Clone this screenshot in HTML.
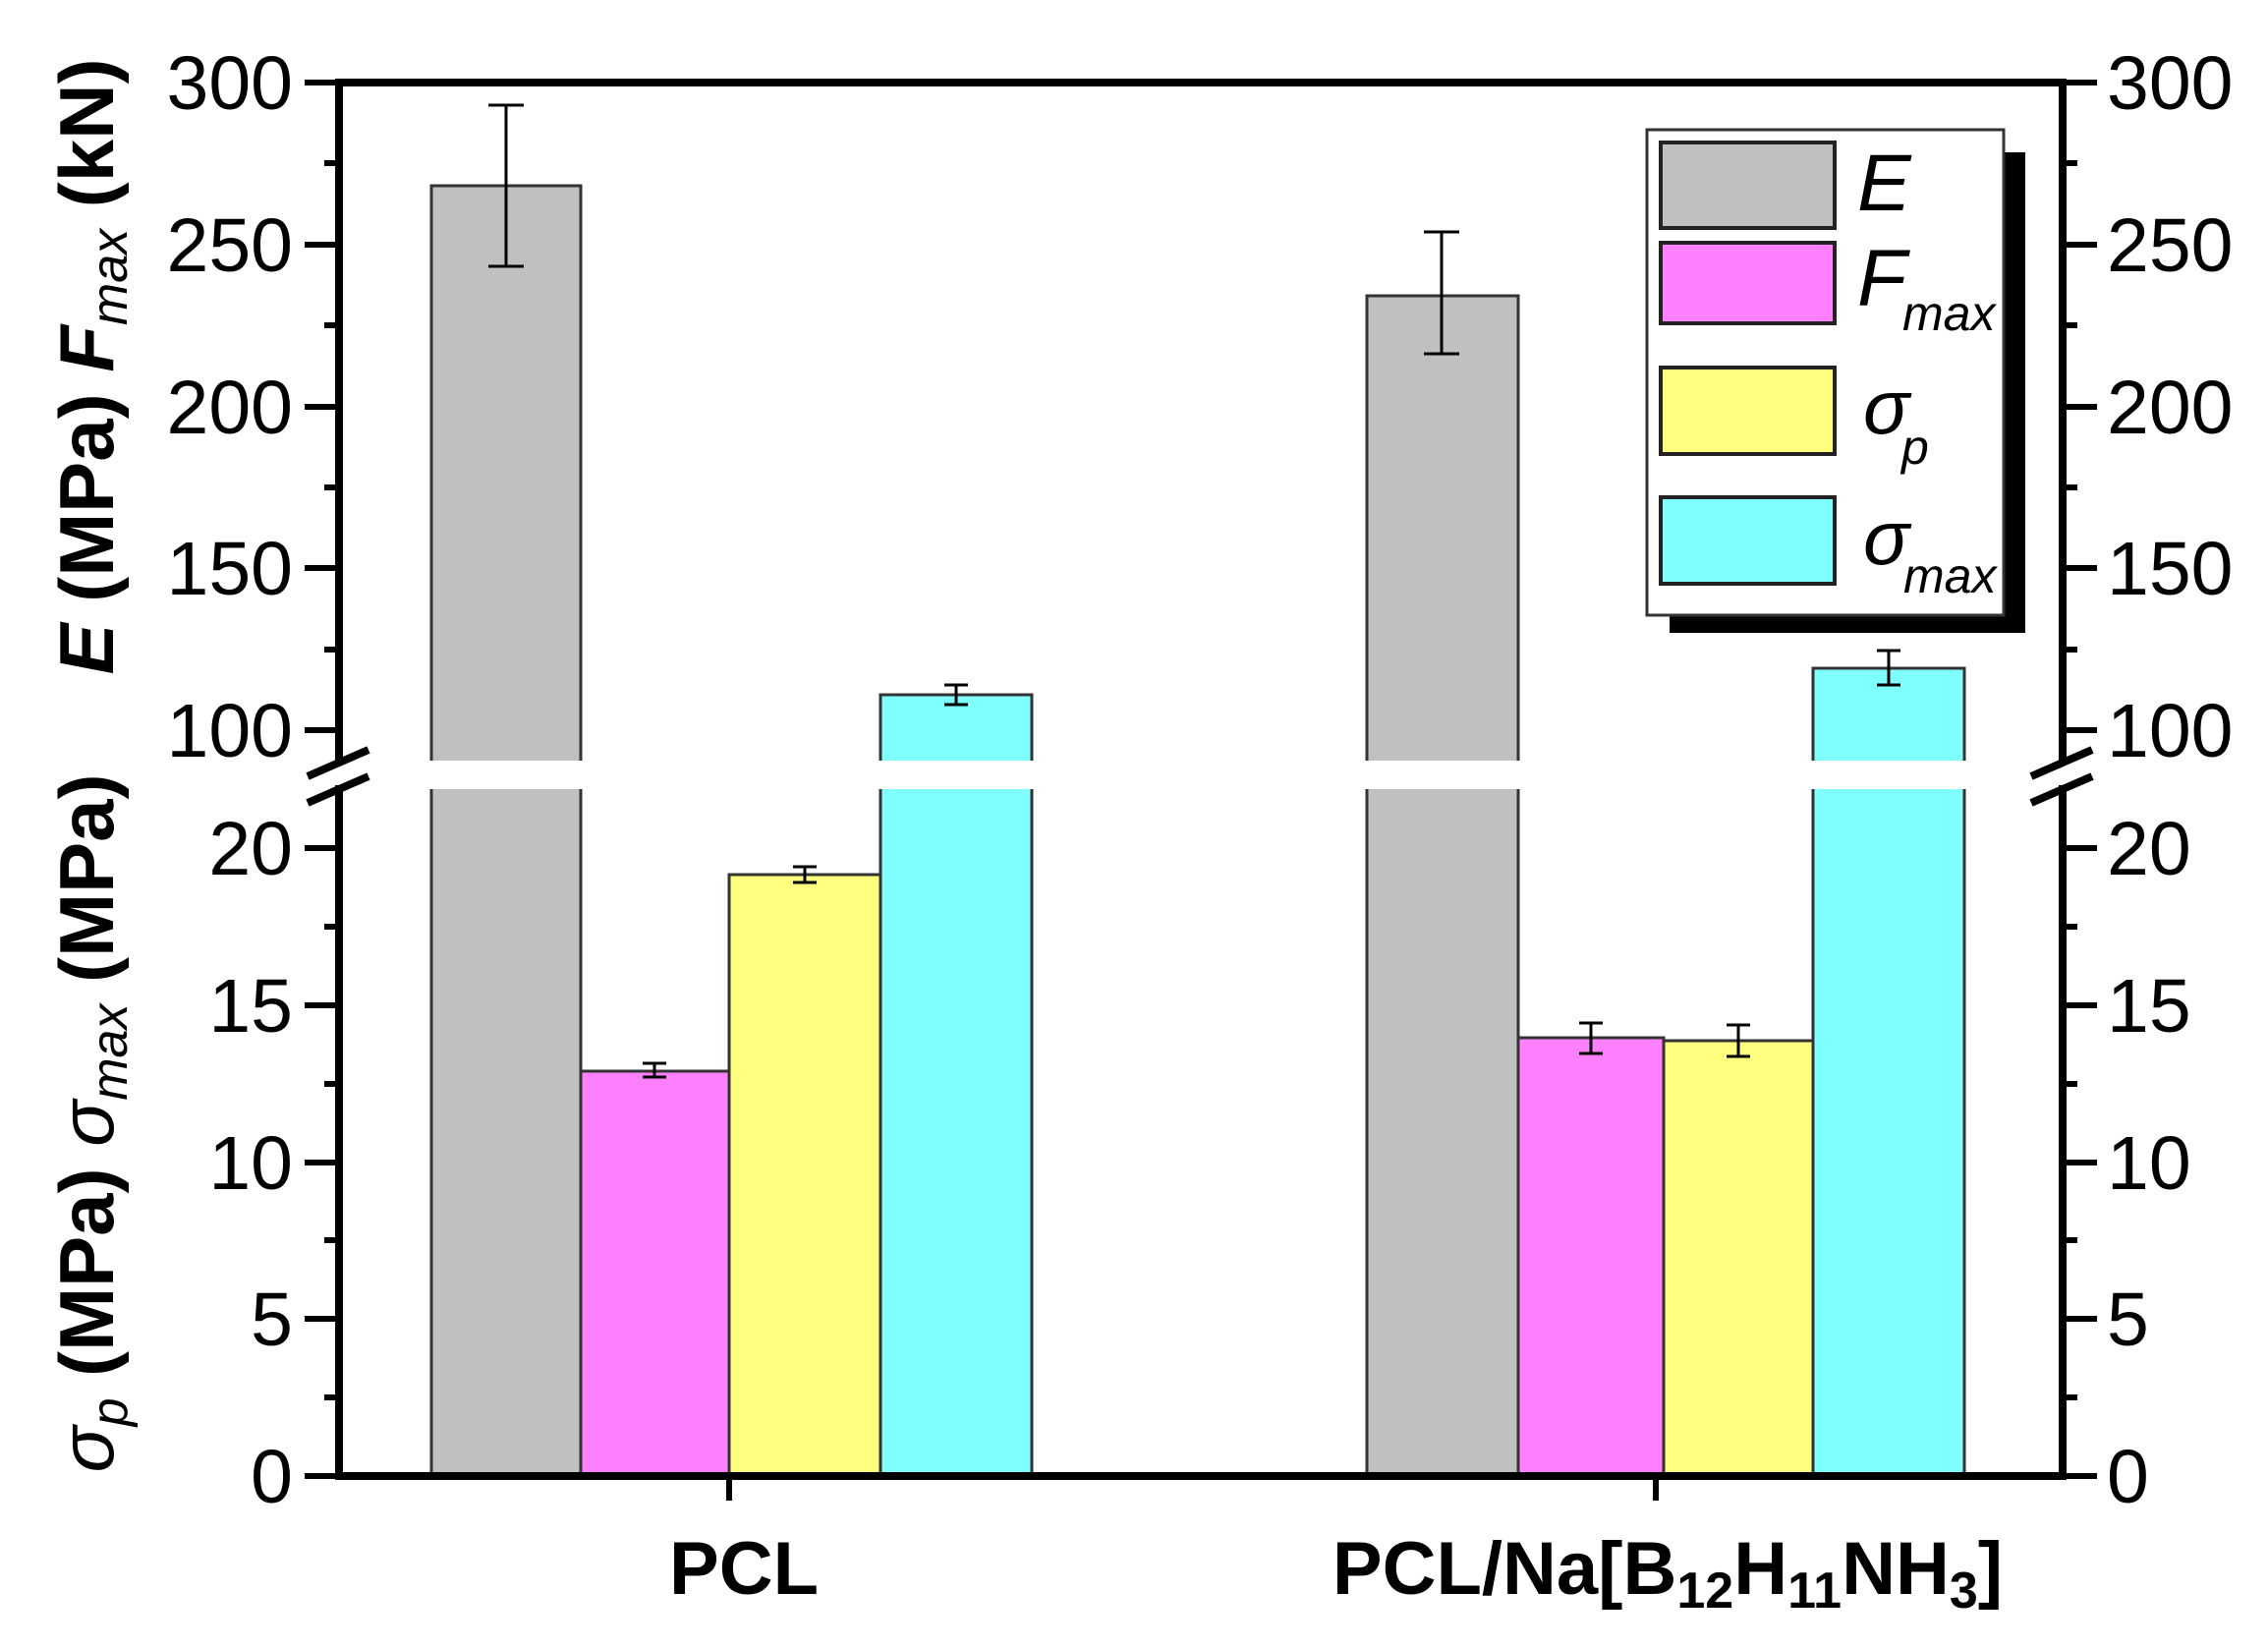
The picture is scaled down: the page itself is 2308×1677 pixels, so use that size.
<!DOCTYPE html>
<html><head><meta charset="utf-8"><style>html,body{margin:0;padding:0;background:#fff}svg{display:block}</style></head>
<body>
<svg width="2308" height="1677" viewBox="0 0 2308 1677" xmlns="http://www.w3.org/2000/svg" font-family="Liberation Sans, Arial, sans-serif">
<rect width="2308" height="1677" fill="#fff"/>
<g stroke="#333" stroke-width="3">
<rect x="439" y="189" width="152" height="1313" fill="#c0c0c0"/>
<rect x="591" y="1090" width="151" height="412" fill="#ff80ff"/>
<rect x="742" y="890" width="154" height="612" fill="#ffff80"/>
<rect x="896" y="707" width="154" height="795" fill="#80ffff"/>
<rect x="1391" y="301" width="154" height="1201" fill="#c0c0c0"/>
<rect x="1545" y="1056" width="148" height="446" fill="#ff80ff"/>
<rect x="1693" y="1059" width="152" height="443" fill="#ffff80"/>
<rect x="1845" y="680" width="154" height="822" fill="#80ffff"/>
</g>
<rect x="349" y="774" width="1744" height="29" fill="#fff"/>
<g stroke="#000" stroke-width="3" fill="none">
<path d="M515 107V271M497 107H533M497 271H533"/>
<path d="M1467 236V360M1449 236H1485M1449 360H1485"/>
<path d="M973 697V717M961 697H985M961 717H985"/>
<path d="M1922 662V697M1910 662H1934M1910 697H1934"/>
<path d="M666 1082V1096M654 1082H678M654 1096H678"/>
<path d="M819 882V898M807 882H831M807 898H831"/>
<path d="M1619 1041V1072M1607 1041H1631M1607 1072H1631"/>
<path d="M1769 1043V1075M1757 1043H1781M1757 1075H1781"/>
</g>
<g stroke="#000" stroke-width="8" fill="none" stroke-linecap="square">
<path d="M345 84H2099"/>
<path d="M345 1502H2099"/>
<path d="M345 84V773M345 803V1502"/>
<path d="M2099 84V773M2099 803V1502"/>
</g>
<g stroke="#000" stroke-width="8">
<path d="M313 790L375 763M313 817L375 790"/>
<path d="M2067 790L2129 763M2067 817L2129 790"/>
</g>
<g stroke="#000" stroke-width="6">
<path d="M310 84H345M310 249H345M310 414H345M310 578H345M310 743H345
M330 166H345M330 331H345M330 496H345M330 661H345
M310 1502H345M310 1342H345M310 1183H345M310 1023H345M310 863H345
M330 1422H345M330 1262H345M330 1103H345M330 943H345
M2099 84H2134M2099 249H2134M2099 414H2134M2099 578H2134M2099 743H2134
M2099 166H2114M2099 331H2114M2099 496H2114M2099 661H2114
M2099 1502H2134M2099 1342H2134M2099 1183H2134M2099 1023H2134M2099 863H2134
M2099 1422H2114M2099 1262H2114M2099 1103H2114M2099 943H2114
M742 1502V1527M1685 1502V1527"/>
</g>
<g font-size="77" fill="#000">
<g text-anchor="end">
<text x="298" y="111">300</text><text x="298" y="276">250</text><text x="298" y="441">200</text><text x="298" y="605">150</text><text x="298" y="770">100</text>
<text x="298" y="890">20</text><text x="298" y="1050">15</text><text x="298" y="1210">10</text><text x="298" y="1369">5</text><text x="298" y="1529">0</text>
</g>
<g text-anchor="start">
<text x="2144" y="111">300</text><text x="2144" y="276">250</text><text x="2144" y="441">200</text><text x="2144" y="605">150</text><text x="2144" y="770">100</text>
<text x="2144" y="890">20</text><text x="2144" y="1050">15</text><text x="2144" y="1210">10</text><text x="2144" y="1369">5</text><text x="2144" y="1529">0</text>
</g>
</g>
<g font-size="76" font-weight="bold" text-anchor="middle">
<text x="757" y="1622">PCL</text>
<text x="1697" y="1622">PCL/Na[B<tspan font-size="52" dy="14">12</tspan><tspan dy="-14">H</tspan><tspan font-size="52" dy="14">11</tspan><tspan dy="-14">NH</tspan><tspan font-size="52" dy="14">3</tspan><tspan dy="-14">]</tspan></text>
</g>
<g font-size="78" font-weight="bold" text-anchor="middle">
<text transform="translate(115,373) rotate(-90)"><tspan font-style="italic">E</tspan> (MPa) <tspan font-style="italic">F</tspan><tspan font-size="52" font-weight="normal" font-style="italic" dy="14">max</tspan><tspan dy="-14"> (kN)</tspan></text>
<text transform="translate(115,1143) rotate(-90)"><tspan font-style="italic" font-weight="normal">σ</tspan><tspan font-size="52" font-weight="normal" font-style="italic" dy="14">p</tspan><tspan dy="-14"> (MPa) </tspan><tspan font-style="italic" font-weight="normal">σ</tspan><tspan font-size="52" font-weight="normal" font-style="italic" dy="14">max</tspan><tspan dy="-14"> (MPa)</tspan></text>
</g>
<rect x="1699" y="155" width="362" height="489" fill="#000"/>
<rect x="1676" y="132" width="363" height="494" fill="#fff" stroke="#333" stroke-width="3"/>
<g stroke="#222" stroke-width="4">
<rect x="1690" y="145" width="177" height="87" fill="#c0c0c0"/>
<rect x="1690" y="247" width="177" height="82" fill="#ff80ff"/>
<rect x="1690" y="374" width="177" height="88" fill="#ffff80"/>
<rect x="1690" y="506" width="177" height="88" fill="#80ffff"/>
</g>
<g font-style="italic" fill="#000">
<text x="1890" y="214" font-size="82">E</text>
<text x="1890" y="311" font-size="82">F</text><text x="1936" y="336" font-size="50">max</text>
<text x="1896" y="441" font-size="78">σ</text><text x="1935" y="472" font-size="50">p</text>
<text x="1896" y="574" font-size="78">σ</text><text x="1937" y="603" font-size="50">max</text>
</g>
</svg>
</body></html>
